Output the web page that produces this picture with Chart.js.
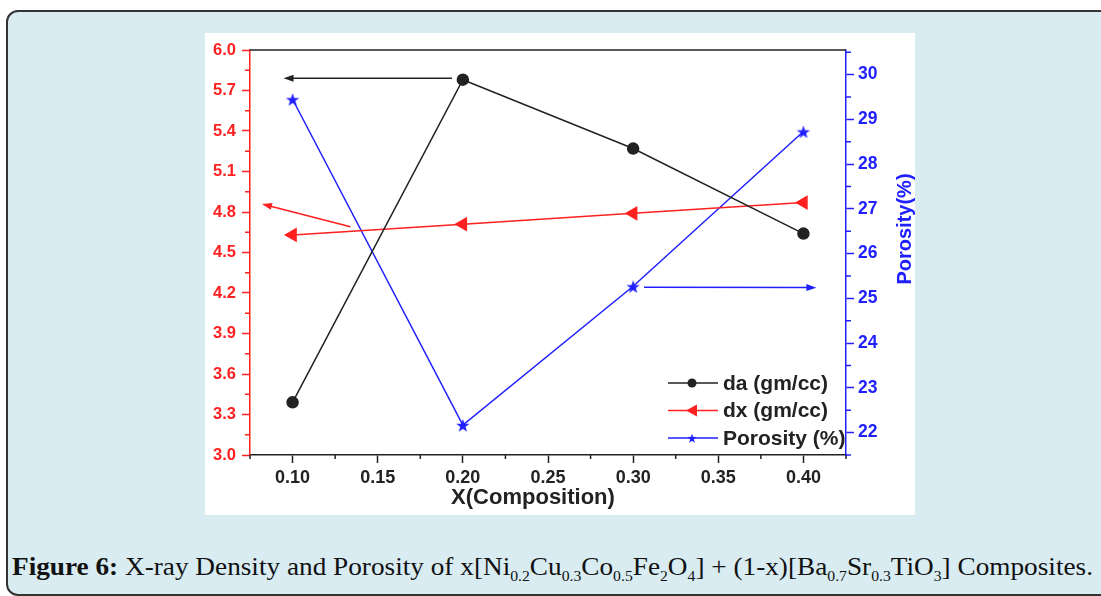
<!DOCTYPE html>
<html>
<head>
<meta charset="utf-8">
<script src="https://cdn.jsdelivr.net/npm/chart.js@4.4.1/dist/chart.umd.min.js"></script>
<style>
  html, body { margin: 0; padding: 0; background: #fff; width: 1101px; height: 596px; overflow: hidden; }
  .frame { position: absolute; left: 6px; top: 10px; width: 1120px; height: 582px;
           background: #d8ecf2; border: 2px solid #333; border-radius: 12px; }
  .plot { position: absolute; left: 205px; top: 33px; width: 710px; height: 482px; background: #fff; }
  .cap { position: absolute; left: 12px; top: 552px; font-family: "Liberation Serif", serif;
         font-size: 26px; color: #111; white-space: nowrap; transform-origin: 0 0; }
  .cap sub { font-size: 15px; vertical-align: -6px; }
</style>
</head>
<body>
<div class="frame"></div>
<div class="plot"><canvas id="chart" width="710" height="482"></canvas></div>
<div class="cap" id="cap"><b>Figure 6:</b> X-ray Density and Porosity of x[Ni<sub>0.2</sub>Cu<sub>0.3</sub>Co<sub>0.5</sub>Fe<sub>2</sub>O<sub>4</sub>] + (1-x)[Ba<sub>0.7</sub>Sr<sub>0.3</sub>TiO<sub>3</sub>] Composites.</div>
<script>
// data
const xValues = [0.10, 0.20, 0.30, 0.40];
const daValues = [3.39, 5.78, 5.27, 4.64];
const dxValues = [4.63, 4.71, 4.79, 4.87];
const porosityValues = [29.45, 22.17, 25.27, 28.73];

const xTicks = [0.10, 0.15, 0.20, 0.25, 0.30, 0.35, 0.40];
const leftTicks = [3.0, 3.3, 3.6, 3.9, 4.2, 4.5, 4.8, 5.1, 5.4, 5.7, 6.0];
const rightTicks = [22, 23, 24, 25, 26, 27, 28, 29, 30];

// annotation arrows (data coordinates, tail -> head)
const arrows = [
  { x1: 0.1936, y1: 5.79, x2: 0.0947, y2: 5.79, axis: 'y', color: '#222' },
  { x1: 0.134, y1: 4.69, x2: 0.082, y2: 4.86, axis: 'y', color: '#ff2020' },
  { x1: 0.3064, y1: 25.25, x2: 0.4076, y2: 25.24, axis: 'y2', color: '#2020ff' }
];

const BLACK = '#222', RED = '#ff2020', BLUE = '#2020ff';

function makeStar(size, color) {
  const c = document.createElement('canvas');
  c.width = c.height = size;
  const g = c.getContext('2d');
  g.fillStyle = color;
  g.beginPath();
  for (let i = 0; i < 10; i++) {
    const r = i % 2 ? size * 0.2 : size / 2;
    const a = -Math.PI / 2 + i * Math.PI / 5;
    const px = size / 2 + r * Math.cos(a), py = size / 2 + 1 + r * Math.sin(a);
    i ? g.lineTo(px, py) : g.moveTo(px, py);
  }
  g.closePath();
  g.fill();
  return c;
}
const star = makeStar(14, BLUE);

function pts(ys) { return xValues.map((x, i) => ({ x: x, y: ys[i] })); }

const extras = {
  id: 'extras',
  afterDraw(chart) {
    const ctx = chart.ctx, a = chart.chartArea;
    const sx = chart.scales.x, sy = chart.scales.y, sy2 = chart.scales.y2;
    ctx.save();
    // top frame
    ctx.strokeStyle = BLACK; ctx.lineWidth = 1.5;
    ctx.beginPath(); ctx.moveTo(a.left, a.top); ctx.lineTo(a.right, a.top); ctx.stroke();
    // minor ticks
    ctx.strokeStyle = BLACK;
    for (let i = 0; i <= 7; i++) {
      const px = sx.getPixelForValue(0.075 + i * 0.05);
      ctx.beginPath(); ctx.moveTo(px, a.bottom); ctx.lineTo(px, a.bottom + 4); ctx.stroke();
    }
    ctx.strokeStyle = RED;
    for (let i = 0; i < leftTicks.length - 1; i++) {
      const py = sy.getPixelForValue((leftTicks[i] + leftTicks[i + 1]) / 2);
      ctx.beginPath(); ctx.moveTo(a.left, py); ctx.lineTo(a.left - 5, py); ctx.stroke();
    }
    ctx.strokeStyle = BLUE;
    for (let v = 21.5; v <= 30.5; v += 1) {
      const py = sy2.getPixelForValue(v);
      ctx.beginPath(); ctx.moveTo(a.right, py); ctx.lineTo(a.right + 5, py); ctx.stroke();
    }
    // arrows
    arrows.forEach(ar => {
      const ys = chart.scales[ar.axis];
      const x1 = sx.getPixelForValue(ar.x1), y1 = ys.getPixelForValue(ar.y1);
      const x2 = sx.getPixelForValue(ar.x2), y2 = ys.getPixelForValue(ar.y2);
      const ang = Math.atan2(y2 - y1, x2 - x1);
      ctx.strokeStyle = ar.color; ctx.fillStyle = ar.color; ctx.lineWidth = 1.5;
      ctx.beginPath(); ctx.moveTo(x1, y1);
      ctx.lineTo(x2 - 8 * Math.cos(ang), y2 - 8 * Math.sin(ang)); ctx.stroke();
      ctx.beginPath();
      ctx.moveTo(x2, y2);
      ctx.lineTo(x2 - 10 * Math.cos(ang) + 3.5 * Math.sin(ang), y2 - 10 * Math.sin(ang) - 3.5 * Math.cos(ang));
      ctx.lineTo(x2 - 10 * Math.cos(ang) - 3.5 * Math.sin(ang), y2 - 10 * Math.sin(ang) + 3.5 * Math.cos(ang));
      ctx.closePath(); ctx.fill();
    });
    // axis titles
    ctx.fillStyle = BLACK;
    ctx.font = 'bold 22px "Liberation Sans", Arial';
    ctx.textAlign = 'center'; ctx.textBaseline = 'middle';
    ctx.fillText('X(Composition)', 328, 465);
    ctx.save();
    ctx.translate(700, 196); ctx.rotate(-Math.PI / 2);
    ctx.fillStyle = BLUE;
    ctx.font = 'bold 20px "Liberation Sans", Arial';
    ctx.fillText('Porosity(%)', 0, 0);
    ctx.restore();
    // legend
    const rows = [
      { label: 'da (gm/cc)', color: BLACK, mark: 'circle' },
      { label: 'dx (gm/cc)', color: RED, mark: 'tri' },
      { label: 'Porosity (%)', color: BLUE, mark: 'star' }
    ];
    ctx.font = 'bold 21px "Liberation Sans", Arial';
    ctx.textAlign = 'left';
    rows.forEach((r, i) => {
      const y = 350 + i * 27.5, x0 = 463;
      ctx.strokeStyle = r.color; ctx.fillStyle = r.color; ctx.lineWidth = 1.5;
      ctx.beginPath(); ctx.moveTo(x0, y); ctx.lineTo(x0 + 50, y); ctx.stroke();
      const mx = x0 + 24;
      if (r.mark === 'circle') {
        ctx.beginPath(); ctx.arc(mx, y, 4.5, 0, Math.PI * 2); ctx.fill();
      } else if (r.mark === 'tri') {
        ctx.beginPath(); ctx.moveTo(mx - 6, y); ctx.lineTo(mx + 5, y - 6); ctx.lineTo(mx + 5, y + 6);
        ctx.closePath(); ctx.fill();
      } else {
        ctx.drawImage(star, mx - 5, y - 5, 10, 10);
      }
      ctx.fillStyle = BLACK;
      ctx.fillText(r.label, x0 + 55, y + 1);
    });
    ctx.restore();
  }
};

new Chart(document.getElementById('chart').getContext('2d'), {
  type: 'line',
  data: {
    datasets: [
      { label: 'da (gm/cc)', data: pts(daValues), yAxisID: 'y', borderColor: BLACK, backgroundColor: BLACK,
        borderWidth: 1.5, pointRadius: 5.5, pointStyle: 'circle', tension: 0 },
      { label: 'dx (gm/cc)', data: pts(dxValues), yAxisID: 'y', borderColor: RED, backgroundColor: RED,
        borderWidth: 1.5, pointRadius: 7, pointStyle: 'triangle', pointRotation: -90, tension: 0 },
      { label: 'Porosity (%)', data: pts(porosityValues), yAxisID: 'y2', borderColor: BLUE, backgroundColor: BLUE,
        borderWidth: 1.5, pointStyle: star, tension: 0 }
    ]
  },
  options: {
    responsive: false,
    animation: false,
    devicePixelRatio: 1,
    layout: { padding: { top: 17, left: 0, right: 0, bottom: 0 } },
    plugins: { legend: { display: false }, tooltip: { enabled: false } },
    scales: {
      x: {
        type: 'linear', min: 0.075, max: 0.425,
        afterBuildTicks: s => { s.ticks = xTicks.map(v => ({ value: v })); },
        afterFit: s => { s.height = 60; },
        grid: { drawOnChartArea: false, tickLength: 8, tickColor: BLACK, tickWidth: 1.5 },
        border: { color: BLACK, width: 1.5 },
        ticks: { color: BLACK, font: { family: 'Liberation Sans, Arial', size: 18, weight: 'bold' },
                 padding: 4, maxRotation: 0, callback: v => v.toFixed(2) }
      },
      y: {
        type: 'linear', position: 'left', min: 3.0, max: 6.0,
        afterBuildTicks: s => { s.ticks = leftTicks.map(v => ({ value: v })); },
        afterFit: s => { s.width = 45; },
        grid: { drawOnChartArea: false, tickLength: 8, tickColor: RED, tickWidth: 1.5 },
        border: { color: RED, width: 1.5 },
        ticks: { color: RED, font: { family: 'Liberation Sans, Arial', size: 16.5, weight: 'bold' },
                 padding: 6, callback: v => v.toFixed(1) }
      },
      y2: {
        type: 'linear', position: 'right', min: 21.5, max: 30.55,
        afterBuildTicks: s => { s.ticks = rightTicks.map(v => ({ value: v })); },
        afterFit: s => { s.width = 69; },
        grid: { drawOnChartArea: false, tickLength: 8, tickColor: BLUE, tickWidth: 1.5 },
        border: { color: BLUE, width: 1.5 },
        ticks: { color: BLUE, font: { family: 'Liberation Sans, Arial', size: 17.5, weight: 'bold' },
                 padding: 4, callback: v => String(v) }
      }
    }
  },
  plugins: [extras]
});

// fit caption to the reference width
const cap = document.getElementById('cap');
const w = cap.getBoundingClientRect().width;
cap.style.transform = 'scaleX(' + (1081 / w) + ')';
</script>
</body>
</html>
